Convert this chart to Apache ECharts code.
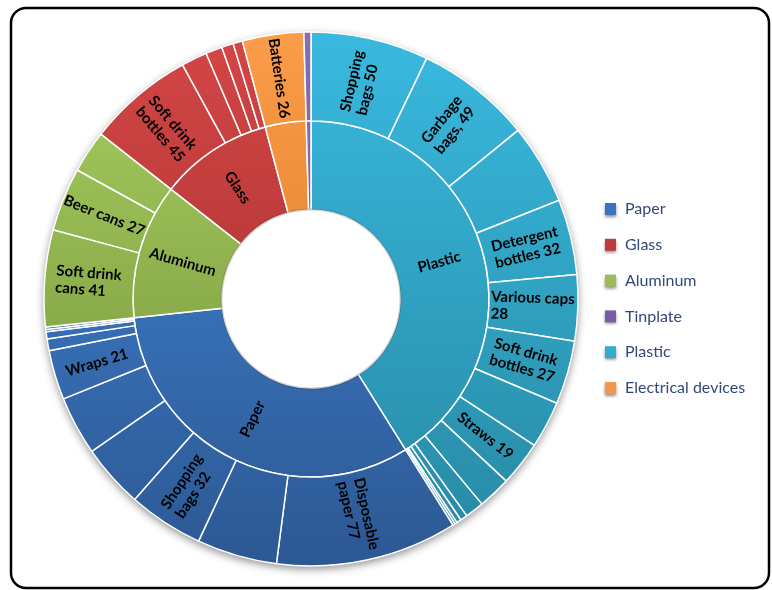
<!DOCTYPE html>
<html>
<head>
<meta charset="utf-8">
<script src="https://cdn.jsdelivr.net/npm/echarts@6/dist/echarts.min.js"></script>
<style>
html,body{margin:0;padding:0;background:#fff;}
#chart{width:772px;height:590px;}
</style>
</head>
<body>
<div id="chart"></div>
<script>
// Legend order
const categories = ['Paper', 'Glass', 'Aluminum', 'Tinplate', 'Plastic', 'Electrical devices'];

// Outer-ring items per category (clockwise order); '' = unlabeled slice
const plasticNames = ['Shopping\nbags', 'Garbage\nbags,', '', 'Detergent\nbottles', 'Various caps\n', 'Soft drink\nbottles', '', 'Straws', '', '', '', '', '', ''];
const plasticValues = [50, 49, 34, 32, 28, 27, 20, 19, 14, 8, 3, 2, 1, 1];
const paperNames = ['Disposable\npaper', '', 'Shopping\nbags', '', '', 'Wraps', '', '', '', ''];
const paperValues = [77, 34, 32, 27, 25, 21, 5, 3, 1, 1];
const aluminumNames = ['Soft drink\ncans', 'Beer cans', ''];
const aluminumValues = [41, 27, 18];
const glassNames = ['Soft drink\nbottles', '', '', '', ''];
const glassValues = [45, 11, 7, 5, 4];
const electricalNames = ['Batteries'];
const electricalValues = [26];
const tinplateNames = [''];
const tinplateValues = [3];

// Colours [top, bottom, legend]
const palette = {
  'Paper': ['#4388da', '#2c5893', '#3a73c0'],
  'Glass': ['#d44646', '#992a2a', '#c0393b'],
  'Aluminum': ['#a9d062', '#6f8c36', '#9bbb59'],
  'Tinplate': ['#8a6cb0', '#6b4f8f', '#7b5aa6'],
  'Plastic': ['#39b9df', '#2788a2', '#33acc9'],
  'Electrical devices': ['#fb9c48', '#d2711f', '#f79646']
};

const CX = 311, CY = 299, R0 = 89, R1 = 178, R2 = 267;
const LABEL_FONT = 'bold 15px Lato';

const measureCtx = document.createElement('canvas').getContext('2d');
measureCtx.font = LABEL_FONT;

function grad(cat) {
  const c = palette[cat];
  return {
    type: 'linear', global: true,
    x: 0, y: CY - R2, x2: 0, y2: CY + R2,
    colorStops: [{offset: 0, color: c[0]}, {offset: 1, color: c[1]}]
  };
}

function childLabel(name, value) {
  if (name === '') return {show: false};
  const text = name.endsWith('\n') ? name + value : name + ' ' + value;
  const lines = text.split('\n');
  let w = 0;
  lines.forEach(l => { w = Math.max(w, measureCtx.measureText(l).width); });
  return {
    show: true,
    formatter: lines.map(l => '{l|' + l + '}').join('\n'),
    rich: {l: {width: Math.ceil(w) + 1, align: 'left', fontSize: 15, fontWeight: 'bold', fontFamily: 'Lato', color: '#000', lineHeight: 17}}
  };
}

function makeNode(cat, names, values, showInner) {
  return {
    name: cat,
    itemStyle: {color: grad(cat)},
    label: {show: showInner},
    children: names.map((n, i) => ({
      name: n,
      value: values[i],
      itemStyle: {color: grad(cat)},
      label: childLabel(n, values[i])
    }))
  };
}

const data = [
  makeNode('Plastic', plasticNames, plasticValues, true),
  makeNode('Paper', paperNames, paperValues, true),
  makeNode('Aluminum', aluminumNames, aluminumValues, true),
  makeNode('Glass', glassNames, glassValues, true),
  makeNode('Electrical devices', electricalNames, electricalValues, false),
  makeNode('Tinplate', tinplateNames, tinplateValues, false)
];

const legendGraphics = [];
categories.forEach((cat, i) => {
  const y = 203 + i * 35.8;
  legendGraphics.push({
    type: 'rect', z: 100,
    shape: {x: 605, y: y, width: 11, height: 12},
    style: {fill: palette[cat][2], shadowBlur: 3, shadowOffsetY: 2, shadowColor: 'rgba(0,0,0,0.45)'}
  });
  legendGraphics.push({
    type: 'text', z: 100,
    x: 625, y: y + 6,
    style: {text: cat, fill: '#33487a', font: '16px Lato', verticalAlign: 'middle'}
  });
});

const chart = echarts.init(document.getElementById('chart'));
chart.setOption({
  backgroundColor: '#fff',
  animation: false,
  graphic: [
    {
      type: 'rect', z: 100,
      shape: {x: 11, y: 8, width: 758, height: 580, r: 15},
      style: {fill: 'none', stroke: '#000', lineWidth: 2.5}
    },
    {
      type: 'circle', z: -10,
      shape: {cx: CX, cy: CY, r: R2},
      style: {fill: '#fff', shadowBlur: 8, shadowOffsetY: 3, shadowColor: 'rgba(0,0,0,0.45)'}
    },
    {
      type: 'circle', z: 100,
      shape: {cx: CX, cy: CY, r: R0 + 0.5},
      style: {fill: 'none', stroke: 'rgba(0,0,0,0.18)', lineWidth: 2}
    }
  ].concat(legendGraphics),
  series: [{
    type: 'sunburst',
    center: [CX, CY],
    radius: [R0, R2],
    startAngle: 90,
    clockwise: true,
    sort: null,
    nodeClick: false,
    emphasis: {disabled: true},
    data: data,
    itemStyle: {borderColor: '#fff', borderWidth: 1.5},
    label: {
      rotate: 'radial',
      color: '#000',
      fontWeight: 'bold',
      fontFamily: 'Lato',
      fontSize: 15,
      lineHeight: 17,
      align: 'center'
    },
    levels: [
      {},
      {r0: R0, r: R1},
      {r0: R1, r: R2}
    ]
  }]
});
</script>
</body>
</html>
